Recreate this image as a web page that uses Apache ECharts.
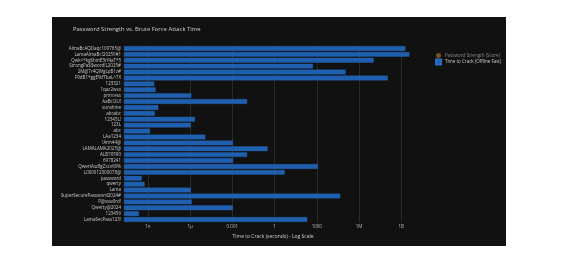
<!DOCTYPE html>
<html><head><meta charset="utf-8">
<script src="https://cdn.jsdelivr.net/npm/echarts@6/dist/echarts.min.js"></script>
<style>html,body{margin:0;padding:0;background:#fff;width:574px;height:263px;overflow:hidden}
#c{position:absolute;left:52px;top:17px;width:454px;height:229px}</style>
</head><body><div id="c"></div>
<script>
const passwords = ["AlmaBcAQDaqc100765@","LamaAlmaBc!2025!!#1","Qwk^*kgShmE3rf4aT*5","StrongPa$$word!L2025#","2M@7r4QWgLpB1z#","F9dB1*ggE%fTbaL^7X","123321","1qaz2wsx","princess","AaBc!2U!","sunshine","abcabc","12345L!","123L","abc","LAa1234","!Ann44@","LAMALAMA2025@","ALB76590","6978241","QwertAsdfgZxcv60%","L0S0012300078@","password","qwerty","Lama","SuperSecurePassword2024#","P@ssw0rd!","Qwerty@2024","123456","LamaSecPass123!"];
const crackSeconds = [2.0e9,3.8e9,1.1e7,530,1.1e5,1.1e8,2.8e-9,3.5e-9,1.2e-6,0.011,5.4e-9,3.1e-9,2.2e-6,1.1e-6,1.4e-9,1.2e-5,1.1e-3,0.32,0.011,1.1e-3,1200,5.2,3.6e-10,5.8e-10,1.1e-6,4.6e4,1.3e-6,1.1e-3,2.3e-10,210];
const tickExps = [-9,-6,-3,0,3,6,9];
const tickLabels = ["1n","1µ","0.001","1","1000","1M","1B"];
const axisMin = 2e-11, axisMax = 3e10;

const chart = echarts.init(document.getElementById('c'));
chart.setOption({
  backgroundColor:'#111111',
  animation:false,
  title:{text:'Password Strength vs. Brute Force Attack Time',left:21,top:9,padding:0,
    textStyle:{color:'#d0d0d0',fontSize:5.9,fontWeight:'normal',fontFamily:'Open Sans'}},
  legend:{orient:'vertical',left:378,top:31,itemWidth:5,itemHeight:5,itemGap:0.5,
    textStyle:{fontSize:4.5,color:'#cfcfcf',fontFamily:'Open Sans',padding:[0,0,0,-1]},
    data:[{name:'Password Strength (Score)',icon:'circle',itemStyle:{color:'#8a6420'},textStyle:{color:'#8a8a8a'}},
          {name:'Time to Crack (Offline Fast)',icon:'rect',itemStyle:{color:'#1f5fb0'}}]},
  grid:{left:72,right:84,top:28.5,bottom:23.5,outerBoundsMode:'none',containLabel:false},
  xAxis:{type:'log',logBase:1000,min:axisMin,max:axisMax,startValue:axisMin,
    name:'Time to Crack (seconds) - Log Scale',nameLocation:'middle',nameGap:9,
    nameTextStyle:{color:'#cfcfcf',fontSize:5,fontFamily:'Open Sans'},
    axisLine:{show:false},axisTick:{show:false},
    axisLabel:{color:'#bdbdbd',fontSize:4.5,margin:2,fontFamily:'Open Sans',showMinLabel:false,showMaxLabel:false,
      formatter:function(v){const e=Math.round(Math.log10(v));const i=tickExps.indexOf(e);return i>=0?tickLabels[i]:'';}},
    splitLine:{show:true,showMinLine:false,showMaxLine:false,lineStyle:{color:'#2a2a2a',width:1}}},
  yAxis:{type:'category',inverse:true,data:passwords,
    name:'Passwords',nameLocation:'middle',nameGap:63,
    nameTextStyle:{color:'#cfcfcf',fontSize:5,fontFamily:'Open Sans'},
    axisLine:{show:false},axisTick:{show:false},
    axisLabel:{color:'#c8c8c8',fontSize:4.5,margin:3,fontFamily:'Open Sans',interval:0}},
  series:[
    {name:'Password Strength (Score)',type:'scatter',data:[]},
    {name:'Time to Crack (Offline Fast)',type:'bar',data:crackSeconds,barCategoryGap:'20%',
     itemStyle:{color:'#1f5fb0',borderColor:'#2d6cc0',borderWidth:0.3}}
  ]
});
</script></body></html>
